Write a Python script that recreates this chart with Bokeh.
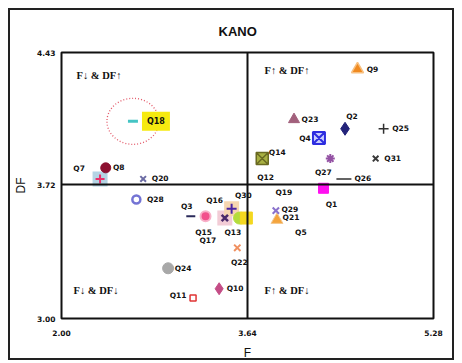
from bokeh.plotting import figure
from bokeh.models import (ColumnDataSource, Span, Label, FixedTicker,
                          NumeralTickFormatter, Range1d)
from bokeh.core.properties import value
from bokeh.embed import file_html
from bokeh.resources import INLINE

# --- data -------------------------------------------------------------
F_MIN, F_MID, F_MAX = 2.00, 3.64, 5.28
DF_MIN, DF_MID, DF_MAX = 3.00, 3.72, 4.43

names = ["Q1", "Q2", "Q3", "Q4", "Q5", "Q6", "Q7", "Q8", "Q9", "Q10",
         "Q11", "Q12", "Q13", "Q14", "Q15", "Q16", "Q17", "Q18", "Q19", "Q20",
         "Q21", "Q22", "Q23", "Q24", "Q25", "Q26", "Q27", "Q28", "Q29", "Q30",
         "Q31"]
f_vals = [4.31, 4.50, 3.14, 4.27, 4.11, 3.57, 2.34, 2.39, 4.61, 3.39,
          3.16, 3.80, 3.44, 3.77, 3.27, 3.50, 3.29, 2.63, 3.96, 2.72,
          3.90, 3.55, 4.05, 2.94, 4.84, 4.49, 4.37, 2.66, 3.89, 3.63,
          4.77]
df_vals = [3.70, 4.02, 3.55, 3.97, 3.46, 3.54, 3.75, 3.81, 4.34, 3.16,
           3.11, 3.76, 3.54, 3.86, 3.55, 3.59, 3.42, 4.06, 3.68, 3.75,
           3.53, 3.38, 4.07, 3.27, 4.02, 3.75, 3.86, 3.64, 3.58, 3.54,
           3.86]
highlight = "Q18"

# --- per-item marker styling -----------------------------------------
style = {
    # name: (marker, size, fill, line, line_width, halo)
    "Q1":  ("square", 10, "#ff10f0", "#ff10f0", 1, None),
    "Q2":  ("diamond", 13, "#23237a", "#23237a", 1, None),
    "Q3":  ("dash", 9, "#2a2a5a", "#2a2a5a", 2, None),
    "Q4":  ("square_x", 12, "#c8ccff", "#2d2de0", 2, None),
    "Q5":  ("circle", 1, "white", "white", 0, None),
    "Q6":  ("circle", 12, "#b4dc3c", "#b4dc3c", 1, None),
    "Q7":  ("cross", 9, "#e8306a", "#e8306a", 2, "#b4d4e4"),
    "Q8":  ("circle", 10, "#8c1030", "#8c1030", 1, None),
    "Q9":  ("triangle", 12, "#f08a20", "#f8c080", 1.5, None),
    "Q10": ("diamond", 12, "#c44c86", "#c44c86", 1, None),
    "Q11": ("square", 6, "white", "#e03434", 1.5, None),
    "Q12": ("circle", 1, "white", "white", 0, None),
    "Q13": ("x", 9, "#4a2a6a", "#4a2a6a", 2.5, "#f2ccd6"),
    "Q14": ("square_x", 12, "#a8b042", "#6a6a22", 1.5, None),
    "Q15": ("circle", 10, "#f2508c", "#f8b0c8", 2, None),
    "Q16": ("cross", 10, "#4a24a4", "#4a24a4", 2, "#f6d6b0"),
    "Q17": ("circle", 1, "white", "white", 0, None),
    "Q18": ("dash", 10, "#44c4c4", "#44c4c4", 3, None),
    "Q19": ("circle", 1, "white", "white", 0, None),
    "Q20": ("x", 8, "#6c6ca4", "#6c6ca4", 2, None),
    "Q21": ("triangle", 12, "#f4a43c", "#f4c890", 1, None),
    "Q22": ("x", 9, "#f09060", "#f09060", 2, None),
    "Q23": ("triangle", 11, "#a2607c", "#a2607c", 1, None),
    "Q24": ("circle", 11, "#a8a8a8", "#a8a8a8", 1, None),
    "Q25": ("cross", 10, "#303030", "#303030", 1.5, None),
    "Q26": ("dash", 15, "#303030", "#303030", 1.5, None),
    "Q27": ("asterisk", 9, "#9452a4", "#9452a4", 2, None),
    "Q28": ("circle", 8, "white", "#7474d4", 2.5, None),
    "Q29": ("x", 9, "#8a72cc", "#8a72cc", 2, None),
    "Q30": ("square", 12, "#f4d820", "#f4d820", 1, None),
    "Q31": ("x", 8, "#3a3a3a", "#3a3a3a", 2, None),
}

# label offsets in screen pixels (dx, dy) relative to each point
label_off = {
    "Q1": (8, -16), "Q2": (7, 12), "Q3": (-4, 10), "Q4": (-14, 0),
    "Q5": (0, 0), "Q6": None, "Q7": (-21, 10), "Q8": (13, 0),
    "Q9": (15, 0), "Q10": (16, 0), "Q11": (-15, 3), "Q12": (0, 0),
    "Q13": (8, -14), "Q14": (15, 6), "Q15": (-2, -16), "Q16": (-17, 8),
    "Q17": (0, 0), "Q18": (23, 0), "Q19": (0, 0), "Q20": (17, 0),
    "Q21": (14, 2), "Q22": (2, -15), "Q23": (16, 0), "Q24": (15, 0),
    "Q25": (17, 0), "Q26": (19, 0), "Q27": (-7, -14), "Q28": (19, 0),
    "Q29": (14, 1), "Q30": (-3, 23), "Q31": (17, 0),
}

pts = dict(x=[], y=[], marker=[], size=[], fill=[], line=[], lw=[])
halo = dict(x=[], y=[], color=[])
lab = dict(x=[], y=[], text=[], dx=[], dy=[])
for n, fx, fy in zip(names, f_vals, df_vals):
    mk, sz, fc, lc, lw, hc = style[n]
    if hc:
        halo["x"].append(fx); halo["y"].append(fy); halo["color"].append(hc)
    pts["x"].append(fx); pts["y"].append(fy); pts["marker"].append(mk)
    pts["size"].append(sz); pts["fill"].append(fc); pts["line"].append(lc)
    pts["lw"].append(lw)
    off = label_off[n]
    if off is not None and n != highlight:
        lab["x"].append(fx); lab["y"].append(fy); lab["text"].append(n)
        lab["dx"].append(off[0]); lab["dy"].append(-off[1])

# --- figure -----------------------------------------------------------
p = figure(width=446, height=352, output_backend="svg", toolbar_location=None,
           x_range=Range1d(F_MIN, F_MAX), y_range=Range1d(DF_MIN, DF_MAX),
           title="KANO", min_border_left=10, min_border_top=42,
           min_border_right=23, min_border_bottom=4)
p.styles = {"border": "2px solid #222", "margin-left": "8px", "margin-top": "8px"}

p.title.align = "left"
p.title.offset = 157
p.title.standoff = 24
p.title.vertical_align = "top"
p.title.text_font = "Liberation Sans"
p.title.text_font_size = "13px"
p.title.text_font_style = "bold"
p.title.text_color = "#111"

p.grid.visible = False
p.outline_line_color = "#111"
p.outline_line_width = 2
p.background_fill_color = "white"
p.border_fill_color = "white"

for ax in (p.xaxis[0], p.yaxis[0]):
    ax.axis_line_color = None
    ax.major_tick_line_color = None
    ax.minor_tick_line_color = None
    ax.major_tick_out = 0
    ax.major_tick_in = 0
    ax.minor_tick_out = 0
    ax.minor_tick_in = 0
    ax.major_label_text_font = "DejaVu Sans"
    ax.major_label_text_font_size = "7.5px"
    ax.major_label_text_font_style = "bold"
    ax.major_label_text_color = "#111"
    ax.axis_label_text_font = "Liberation Sans"
    ax.axis_label_text_font_size = "12px"
    ax.axis_label_text_font_style = "normal"
    ax.axis_label_text_color = "#111"
    ax.formatter = NumeralTickFormatter(format="0.00")

p.xaxis.ticker = FixedTicker(ticks=[F_MIN, F_MID, F_MAX])
p.yaxis.ticker = FixedTicker(ticks=[DF_MIN, DF_MID, DF_MAX])
p.xaxis.axis_label = "F"
p.yaxis.axis_label = "DF"
p.xaxis.major_label_standoff = 11
p.xaxis.axis_label_standoff = 7
p.yaxis.major_label_standoff = 6
p.yaxis.axis_label_standoff = 6

# quadrant divider lines at the means
p.add_layout(Span(location=F_MID, dimension="height", line_color="#111", line_width=2))
p.add_layout(Span(location=DF_MID, dimension="width", line_color="#111", line_width=2))

# quadrant captions
qfont = "Liberation Serif"
for txt, xx, yy, xo, yo in [("F\u2193 & DF\u2191", F_MIN, DF_MAX, 15, -23),
                            ("F\u2191 & DF\u2191", F_MID, DF_MAX, 17, -18),
                            ("F\u2193 & DF\u2193", F_MIN, DF_MIN, 12, 28),
                            ("F\u2191 & DF\u2193", F_MID, DF_MIN, 17, 28)]:
    p.add_layout(Label(x=xx, y=yy, x_offset=xo, y_offset=yo, text=txt,
                       text_font=qfont, text_font_size="10.5px",
                       text_font_style="bold", text_color="#111",
                       text_baseline="middle"))

# pale backing squares behind some markers
p.scatter(x="x", y="y", source=ColumnDataSource(halo), marker="square", size=15,
          fill_color="color", line_color=None)

p.scatter(x="x", y="y", source=ColumnDataSource(pts), marker="marker", size="size",
          fill_color="fill", line_color="line", line_width="lw")

p.text(x="x", y="y", text="text", source=ColumnDataSource(lab),
       x_offset="dx", y_offset="dy", text_align="center", text_baseline="middle",
       text_font=value("DejaVu Sans"), text_font_size="7.5px",
       text_font_style="bold", text_color="#111")

# highlighted item: yellow tag and dotted ring
hi = names.index(highlight)
hx, hy = f_vals[hi], df_vals[hi]
p.add_layout(Label(x=hx, y=hy, x_offset=23, text=highlight, text_align="center",
                   text_baseline="middle", text_font="DejaVu Sans",
                   text_font_size="8px", text_font_style="bold", text_color="#111",
                   background_fill_color="#f6ea10", padding=5))
p.ellipse(x=[hx], y=[hy], width=[52], height=[46], width_units="screen",
          height_units="screen", fill_color=None, line_color="#e45a6a",
          line_width=1.3, line_dash="1 2")

open("out.html", "w").write(file_html(p, INLINE))
